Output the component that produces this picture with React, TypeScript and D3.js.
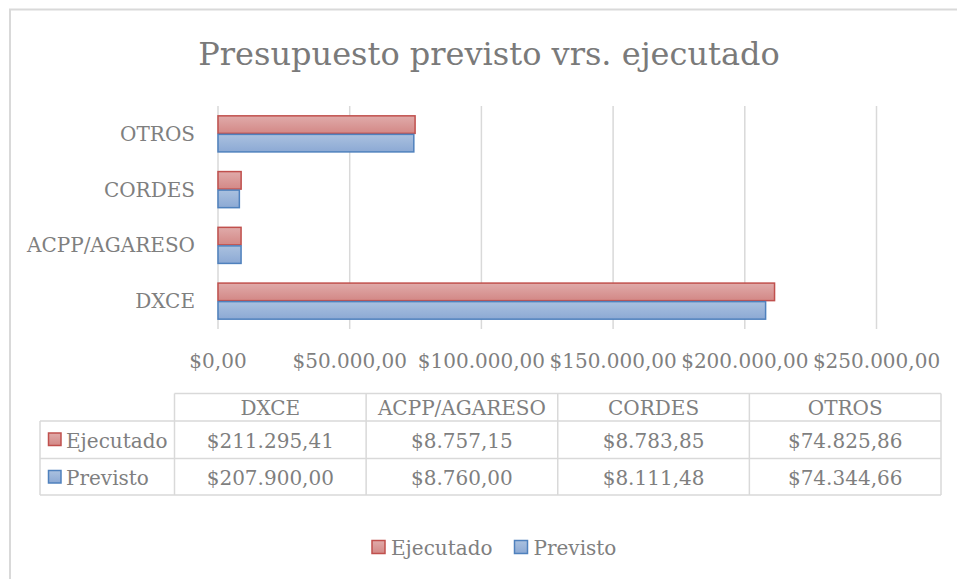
import React from "react";
import * as d3 from "d3";

const categories = ["DXCE", "ACPP/AGARESO", "CORDES", "OTROS"];
const seriesNames = ["Ejecutado", "Previsto"];
const ejecutado = [211295.41, 8757.15, 8783.85, 74825.86];
const previsto = [207900.0, 8760.0, 8111.48, 74344.66];
const xTicks = [0, 50000, 100000, 150000, 200000, 250000];
const title = "Presupuesto previsto vrs. ejecutado";

const W = 957;
const H = 579;
const FONT = "'DejaVu Serif', serif";
const TXT = "#7f7f7f";
const GRID = "#d9d9d9";
const FS = 20;

const locale = d3.formatLocale({
  decimal: ",",
  thousands: ".",
  grouping: [3],
  currency: ["$", ""],
});
const fmt = locale.format("$,.2f");

export default function App() {
  const plot = { left: 218, right: 876.5, top: 106, bottom: 329 };
  const x = d3.scaleLinear().domain([0, 250000]).range([plot.left, plot.right]);
  const y = d3
    .scaleBand<string>()
    .domain([...categories].reverse())
    .range([plot.top, plot.bottom])
    .paddingInner(0.335)
    .paddingOuter(0.335 / 2);
  const sub = d3.scaleBand<string>().domain(seriesNames).range([0, y.bandwidth()]);

  const series = [
    { name: "Ejecutado", values: ejecutado, grad: "gradRed", stroke: "#c0504d" },
    { name: "Previsto", values: previsto, grad: "gradBlue", stroke: "#4f81bd" },
  ];

  // table layout
  const tableLeft = 40;
  const colStart = 174.5;
  const colW = (941 - colStart) / categories.length;
  const rowY = [393.5, 421, 458.5, 495];
  const tCol = d3.scaleBand<string>().domain(categories).range([colStart, 941]);

  return (
    <svg
      width={W}
      height={H}
      style={{ position: "absolute", left: 0, top: 0, background: "#fff" }}
      fontFamily={FONT}
    >
      <defs>
        <linearGradient id="gradRed" x1="0" y1="0" x2="0" y2="1">
          <stop offset="0" stopColor="#e0abaa" />
          <stop offset="1" stopColor="#d38886" />
        </linearGradient>
        <linearGradient id="gradBlue" x1="0" y1="0" x2="0" y2="1">
          <stop offset="0" stopColor="#aac1df" />
          <stop offset="1" stopColor="#8ca9d4" />
        </linearGradient>
      </defs>
      <rect x={0} y={0} width={W} height={H} fill="#fff" />
      <rect x={10} y={9.5} width={W + 20} height={H + 20} fill="none" stroke={GRID} strokeWidth={2} />

      <text x={489} y={65} textAnchor="middle" fontSize={32} fill="#7a7a7a">
        {title}
      </text>

      {/* gridlines */}
      {xTicks.map((t) => (
        <line key={t} x1={x(t)} x2={x(t)} y1={plot.top} y2={plot.bottom} stroke={GRID} strokeWidth={1.5} />
      ))}

      {/* bars */}
      {categories.map((c, i) =>
        series.map((s) => (
          <rect
            key={c + s.name}
            x={x(0)}
            y={(y(c) as number) + (sub(s.name) as number) + 0.5}
            width={x(s.values[i]) - x(0)}
            height={sub.bandwidth() - 1}
            fill={`url(#${s.grad})`}
            stroke={s.stroke}
            strokeWidth={1.5}
          />
        ))
      )}

      {/* category labels */}
      {categories.map((c) => (
        <text
          key={c}
          x={195}
          y={(y(c) as number) + y.bandwidth() / 2 + 7}
          textAnchor="end"
          fontSize={FS}
          fill={TXT}
        >
          {c}
        </text>
      ))}

      {/* x tick labels */}
      {xTicks.map((t) => (
        <text key={t} x={x(t)} y={367.5} textAnchor="middle" fontSize={FS} fill={TXT}>
          {fmt(t)}
        </text>
      ))}

      {/* data table */}
      <g stroke={GRID} strokeWidth={1.5} fill="none">
        <line x1={colStart} x2={941} y1={rowY[0]} y2={rowY[0]} />
        <line x1={tableLeft} x2={941} y1={rowY[1]} y2={rowY[1]} />
        <line x1={tableLeft} x2={941} y1={rowY[2]} y2={rowY[2]} />
        <line x1={tableLeft} x2={941} y1={rowY[3]} y2={rowY[3]} />
        <line x1={tableLeft} x2={tableLeft} y1={rowY[1]} y2={rowY[3]} />
        {categories.map((c) => (
          <line key={c} x1={tCol(c)} x2={tCol(c)} y1={rowY[0]} y2={rowY[3]} />
        ))}
        <line x1={941} x2={941} y1={rowY[0]} y2={rowY[3]} />
      </g>
      {categories.map((c) => (
        <text key={c} x={(tCol(c) as number) + colW / 2} y={415} textAnchor="middle" fontSize={FS} fill={TXT}>
          {c}
        </text>
      ))}
      {series.map((s, r) => (
        <g key={s.name}>
          <rect x={48.5} y={rowY[r + 1] + 12} width={12.5} height={12.5} fill={`url(#${s.grad})`} stroke={s.stroke} strokeWidth={1.5} />
          <text x={66} y={rowY[r + 1] + 26.5} fontSize={FS} fill={TXT}>
            {s.name}
          </text>
          {categories.map((c, i) => (
            <text
              key={c}
              x={(tCol(c) as number) + colW / 2}
              y={rowY[r + 1] + 26.5}
              textAnchor="middle"
              fontSize={FS}
              fill={TXT}
            >
              {fmt(s.values[i])}
            </text>
          ))}
        </g>
      ))}

      {/* legend */}
      {series.map((s, i) => {
        const lx = i === 0 ? 372 : 514.5;
        return (
          <g key={s.name}>
            <rect x={lx} y={540.5} width={13} height={13} fill={`url(#${s.grad})`} stroke={s.stroke} strokeWidth={1.5} />
            <text x={lx + 19} y={555} fontSize={FS} fill={TXT}>
              {s.name}
            </text>
          </g>
        );
      })}
    </svg>
  );
}
